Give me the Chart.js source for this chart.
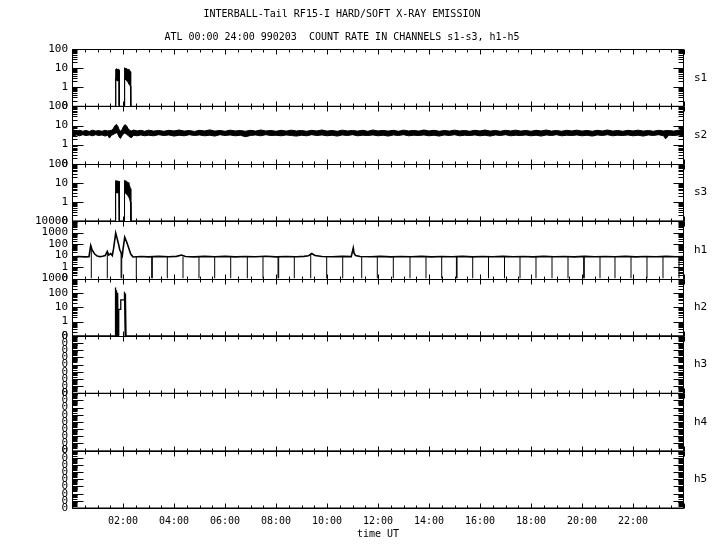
<!DOCTYPE html>
<html>
<head>
<meta charset="utf-8">
<script src="https://cdn.jsdelivr.net/npm/chart.js@4.4.1/dist/chart.umd.min.js"></script>
<style>
  html, body { margin: 0; padding: 0; background: #fff; }
</style>
</head>
<body>
<canvas id="xray" width="720" height="550"></canvas>
<script>
// Titles and axis text
const titleLines = [
    'INTERBALL-Tail RF15-I HARD/SOFT X-RAY EMISSION',
    'ATL 00:00 24:00 990203  COUNT RATE IN CHANNELS s1-s3, h1-h5'
];
const xTitle = 'time UT';
const xTickHours = [2, 4, 6, 8, 10, 12, 14, 16, 18, 20, 22];
const xTickLabels = ['02:00', '04:00', '06:00', '08:00', '10:00', '12:00',
    '14:00', '16:00', '18:00', '20:00', '22:00'];

// Panels, top to bottom
const panelNames = ['s1', 's2', 's3', 'h1', 'h2', 'h3', 'h4', 'h5'];
const s1Ticks = [0.1, 1, 10, 100];
const s2Ticks = [0.1, 1, 10, 100];
const s3Ticks = [0.1, 1, 10, 100];
const h1Ticks = [0.1, 1, 10, 100, 1000, 10000];
const h2Ticks = [0.1, 1, 10, 100, 1000];
const zeroTicks = [0, 0.125, 0.25, 0.375, 0.5, 0.625, 0.75, 0.875, 1];

// s1, s3: [hour, low, high] of the count rate band
const s1Band = [
    [0, 0, 0], [1.71, 0, 0], [1.715, 3.0, 8.5], [1.73, 2.3, 9.2], [1.75, 3.2, 8.8],
    [1.77, 2.4, 9.0], [1.79, 2.1, 8.2], [1.81, 2.8, 8.6], [1.83, 2.3, 8.9],
    [1.85, 2.6, 7.8], [1.855, 0, 0], [2.05, 0, 0], [2.055, 2.2, 9.5],
    [2.07, 3.0, 10.5], [2.09, 2.6, 9.8], [2.11, 2.4, 9.2], [2.14, 2.2, 9.6],
    [2.17, 2.0, 8.6], [2.20, 1.8, 8.8], [2.23, 1.5, 7.6], [2.26, 1.3, 7.8],
    [2.29, 1.15, 6.5], [2.30, 1.1, 6.0], [2.305, 0, 0], [24, 0, 0]
];
const s3Band = [
    [0, 0, 0], [1.695, 0, 0], [1.70, 3.2, 12], [1.72, 2.8, 13], [1.74, 3.4, 12.5],
    [1.76, 3.0, 13], [1.78, 3.5, 12], [1.80, 2.9, 12.8], [1.82, 3.2, 11.5],
    [1.845, 3.0, 12], [1.855, 2.8, 10], [1.86, 0, 0], [2.045, 0, 0],
    [2.05, 2.6, 12], [2.07, 3.2, 13.5], [2.09, 2.9, 12.5], [2.11, 3.0, 13],
    [2.14, 2.5, 12], [2.17, 2.6, 11], [2.20, 2.0, 10.5], [2.23, 1.8, 9],
    [2.26, 1.4, 7], [2.29, 1.0, 5], [2.305, 0.9, 4], [2.31, 0, 0], [24, 0, 0]
];
const s2Band = [
    [0.00, 2.5, 7.5], [0.06, 2.8, 5.8], [0.18, 3.2, 5.1], [0.3, 2.9, 5.6],
    [0.42, 3.3, 5.0], [0.55, 3.0, 5.5], [0.68, 3.2, 4.9], [0.8, 2.9, 5.7],
    [0.93, 3.3, 5.1], [1.05, 3.0, 5.4], [1.18, 3.2, 5.0], [1.3, 2.8, 5.6],
    [1.4, 3.1, 5.2], [1.47, 2.2, 5.4], [1.55, 3.1, 5.6], [1.62, 3.4, 7.0],
    [1.68, 3.8, 9.5], [1.74, 4.2, 11.5], [1.80, 3.5, 9.0], [1.85, 2.5, 6.0],
    [1.90, 2.1, 5.2], [1.96, 2.9, 5.8], [2.01, 3.6, 8.5], [2.07, 4.0, 11],
    [2.13, 3.6, 10], [2.20, 3.0, 7.0], [2.27, 2.5, 5.5], [2.33, 2.3, 5.2],
    [2.42, 3.1, 5.8], [2.55, 2.9, 5.2], [2.7, 3.2, 5.6], [2.85, 2.9, 5.0],
    [3.0, 3.1, 5.7], [3.2, 2.9, 5.1], [3.4, 3.3, 5.5], [3.6, 3.0, 5.0],
    [3.8, 3.2, 5.6], [4.0, 2.8, 5.2], [4.2, 3.1, 5.8], [4.4, 2.9, 5.1],
    [4.6, 3.3, 5.5], [4.8, 3.0, 4.9], [5.0, 3.2, 5.6], [5.2, 2.9, 5.2],
    [5.4, 3.1, 5.9], [5.6, 2.8, 5.1], [5.8, 3.3, 5.5], [6.0, 3.0, 5.0],
    [6.2, 3.2, 5.7], [6.4, 2.9, 5.2], [6.6, 3.1, 5.5], [6.8, 2.6, 5.0],
    [7.0, 3.0, 5.6], [7.2, 3.2, 5.1], [7.4, 2.9, 5.8], [7.6, 3.3, 5.2],
    [7.8, 3.0, 5.5], [8.0, 3.1, 5.0], [8.2, 2.9, 5.6], [8.4, 3.2, 5.1],
    [8.6, 3.0, 5.7], [8.8, 2.8, 5.2], [9.0, 3.1, 5.5], [9.2, 2.9, 5.0],
    [9.4, 3.3, 5.6], [9.6, 3.0, 5.2], [9.8, 3.2, 5.8], [10.0, 2.9, 5.1],
    [10.2, 3.1, 5.5], [10.4, 2.8, 5.0], [10.6, 3.2, 5.7], [10.8, 3.0, 5.2],
    [11.0, 3.3, 5.5], [11.2, 2.9, 5.1], [11.4, 3.1, 5.6], [11.6, 3.0, 5.0],
    [11.8, 3.2, 5.8], [12.0, 2.9, 5.2], [12.2, 3.1, 5.5], [12.4, 2.8, 5.1],
    [12.6, 3.2, 5.6], [12.8, 3.0, 5.0], [13.0, 3.3, 5.7], [13.2, 2.9, 5.2],
    [13.4, 3.1, 5.5], [13.6, 3.0, 5.1], [13.8, 3.2, 5.8], [14.0, 2.9, 5.2],
    [14.2, 3.1, 5.6], [14.4, 2.8, 5.0], [14.6, 3.2, 5.5], [14.8, 3.0, 5.1],
    [15.0, 3.3, 5.7], [15.2, 2.9, 5.2], [15.4, 3.1, 5.5], [15.6, 3.0, 5.0],
    [15.8, 3.2, 5.6], [16.0, 2.9, 5.2], [16.2, 3.1, 5.8], [16.4, 2.8, 5.1],
    [16.6, 3.2, 5.5], [16.8, 3.0, 5.0], [17.0, 3.3, 5.6], [17.2, 2.9, 5.2],
    [17.4, 3.1, 5.7], [17.6, 3.0, 5.1], [17.8, 3.2, 5.5], [18.0, 2.9, 5.0],
    [18.2, 3.1, 5.6], [18.4, 2.8, 5.2], [18.6, 3.2, 5.8], [18.8, 3.0, 5.1],
    [19.0, 3.3, 5.5], [19.2, 2.9, 5.0], [19.4, 3.1, 5.6], [19.6, 3.0, 5.2],
    [19.8, 3.2, 5.7], [20.0, 2.9, 5.1], [20.2, 3.1, 5.5], [20.4, 2.8, 5.0],
    [20.6, 3.2, 5.6], [20.8, 3.0, 5.2], [21.0, 3.3, 5.8], [21.2, 2.9, 5.1],
    [21.4, 3.1, 5.5], [21.6, 3.0, 5.0], [21.8, 3.2, 5.6], [22.0, 2.9, 5.2],
    [22.2, 3.1, 5.7], [22.4, 2.8, 5.1], [22.6, 3.2, 5.5], [22.8, 3.0, 5.0],
    [23.0, 3.3, 5.6], [23.2, 2.9, 5.2], [23.28, 2.0, 5.4], [23.4, 3.1, 5.5],
    [23.6, 3.0, 5.1], [23.8, 3.2, 5.7], [24.0, 2.7, 7.0]
];

// h1: [hour, count] and the short dropouts [hour, level before the drop]
const h1Line = [
    [0.00, 7.5], [0.25, 8.2], [0.50, 7.6], [0.667, 8.0], [0.733, 75], [0.784, 32],
    [0.89, 13.5], [0.99, 9], [1.10, 8.0], [1.20, 8.6], [1.30, 10], [1.384, 23],
    [1.44, 11], [1.52, 15], [1.58, 10], [1.63, 40], [1.714, 900], [1.765, 340],
    [1.831, 88], [1.871, 32], [1.93, 18], [1.973, 10], [2.01, 50], [2.067, 390],
    [2.145, 150], [2.224, 45], [2.302, 13.6], [2.392, 7.5], [2.7, 8.3], [3.0, 7.6],
    [3.4, 8.4], [3.8, 7.8], [4.1, 8.5], [4.29, 11], [4.45, 8.2], [4.8, 7.6],
    [5.2, 8.4], [5.6, 7.9], [6.0, 8.5], [6.4, 7.7], [6.8, 8.3], [7.2, 7.8],
    [7.6, 8.6], [8.0, 7.6], [8.4, 8.2], [8.8, 7.8], [9.1, 8.5], [9.27, 9.5],
    [9.4, 15], [9.53, 10], [9.8, 8.2], [10.2, 7.8], [10.6, 8.4], [10.95, 8.0],
    [11.03, 45], [11.06, 16], [11.12, 10], [11.3, 8.2], [11.7, 7.8], [12.1, 8.4],
    [12.5, 7.7], [12.9, 8.3], [13.3, 7.9], [13.7, 8.5], [14.1, 7.6], [14.5, 8.2],
    [14.9, 7.8], [15.3, 8.4], [15.7, 7.7], [16.1, 8.3], [16.5, 7.9], [16.9, 8.5],
    [17.3, 7.8], [17.7, 8.2], [18.1, 7.6], [18.5, 8.4], [18.9, 7.9], [19.3, 8.3],
    [19.7, 7.7], [20.1, 8.5], [20.5, 7.8], [20.9, 8.2], [21.3, 7.9], [21.7, 8.4],
    [22.1, 7.6], [22.5, 8.3], [22.9, 7.8], [23.3, 8.4], [23.7, 7.9], [24.0, 8.2]
];
const h1Drops = [
    [0.757, 70], [1.384, 22], [1.925, 18], [1.95, 14], [2.522, 8], [3.125, 8],
    [3.15, 8], [3.737, 8], [4.353, 8], [4.980, 8], [5.596, 8], [6.224, 8],
    [6.875, 8], [7.490, 8], [8.08, 8], [8.105, 8], [8.718, 8], [9.361, 14],
    [9.988, 8], [10.616, 8], [11.361, 8], [11.973, 8], [12.600, 8], [13.255, 8],
    [13.882, 8], [14.498, 8], [15.075, 8], [15.10, 8], [15.714, 8], [16.333, 8],
    [16.961, 8], [17.569, 8], [18.196, 8], [18.824, 8], [19.451, 8], [20.065, 8],
    [20.09, 8], [20.706, 8], [21.294, 8], [21.922, 8], [22.549, 8], [23.176, 8],
    [23.804, 8]
];
const h2Line = [
    [0, 0], [1.69, 0], [1.692, 240], [1.71, 60], [1.72, 180], [1.73, 40],
    [1.74, 150], [1.75, 0], [1.77, 80], [1.78, 0], [1.80, 100], [1.81, 0],
    [1.83, 0], [1.835, 7], [1.91, 7], [1.912, 32], [2.04, 32], [2.042, 120],
    [2.06, 35], [2.07, 100], [2.085, 0], [2.095, 90], [2.10, 50], [2.12, 0], [24, 0]
];
const h3Line = [[0, 0], [24, 0]];
const h4Line = [[0, 0], [24, 0]];
const h5Line = [[0, 0], [24, 0]];

const MONO = "'DejaVu Sans Mono', 'Liberation Mono', monospace";
const panelTicks = [s1Ticks, s2Ticks, s3Ticks, h1Ticks, h2Ticks, zeroTicks, zeroTicks, zeroTicks];
const panelIsLog = [true, true, true, true, true, false, false, false];

function yAxis(i) {
    const ticks = panelTicks[i];
    const isLog = panelIsLog[i];
    return {
        type: isLog ? 'logarithmic' : 'linear',
        position: 'left',
        stack: 'panels',
        stackWeight: 1,
        weight: panelNames.length - i,
        min: ticks[0],
        max: ticks[ticks.length - 1],
        afterBuildTicks: s => { s.ticks = ticks.map(v => ({ value: v })); },
        afterFit: s => { s.width = 72; },
        grid: { display: false, drawTicks: false },
        border: { display: false },
        ticks: {
            autoSkip: false,
            padding: 4,
            color: '#000',
            font: { family: MONO, size: 11 },
            callback: v => (isLog && v >= 1 ? String(v) : '0')
        }
    };
}

function lineSet(points, axis, floor, width) {
    return {
        data: points.map(([h, v]) => ({ x: h, y: Math.max(v, floor) })),
        yAxisID: axis, borderColor: '#000', borderWidth: width || 1,
        pointRadius: 0, fill: false, tension: 0
    };
}

function bandSets(band, axis) {
    const lo = band.map(([h, l]) => [h, l]);
    const hi = band.map(([h, , u]) => [h, u]);
    const hiSet = lineSet(hi, axis, 0.1);
    hiSet.fill = '-1';
    hiSet.backgroundColor = '#000';
    return [lineSet(lo, axis, 0.1), hiSet];
}

const dropSet = {
    data: h1Drops.flatMap(([h, top]) => [{ x: h, y: 0.1 }, { x: h, y: top }, { x: h, y: null }]),
    yAxisID: 'h1', borderColor: '#000', borderWidth: 1, pointRadius: 0, fill: false
};

const datasets = [
    ...bandSets(s1Band, 's1'),
    ...bandSets(s2Band, 's2'),
    ...bandSets(s3Band, 's3'),
    lineSet(h1Line, 'h1', 0.1, 1.6),
    dropSet,
    lineSet(h2Line, 'h2', 0.1, 1.3),
    lineSet(h3Line, 'h3', 0),
    lineSet(h4Line, 'h4', 0),
    lineSet(h5Line, 'h5', 0)
];

const scales = {
    x: {
        type: 'linear',
        min: 0,
        max: 24,
        afterBuildTicks: s => { s.ticks = xTickHours.map(v => ({ value: v })); },
        afterFit: s => { s.height = 42; },
        grid: { display: false, drawTicks: false },
        border: { display: false },
        ticks: {
            autoSkip: false, maxRotation: 0, padding: 7, color: '#000',
            font: { family: MONO, size: 10 },
            callback: (v, i) => xTickLabels[i]
        },
        title: {
            display: true, text: xTitle, color: '#000',
            font: { family: MONO, size: 10 },
            padding: { top: 0, bottom: 10 }
        }
    }
};
panelNames.forEach((id, i) => { scales[id] = yAxis(i); });

// frames, inward tick marks and channel names
const panelFrame = {
    id: 'panelFrame',
    afterDraw(chart) {
        const { ctx, chartArea: a, scales: sc } = chart;
        const xs = sc.x;
        const L = Math.round(a.left) + 0.5;
        const R = Math.round(a.right) - 0.5;
        ctx.save();
        ctx.strokeStyle = '#000';
        ctx.lineWidth = 1;
        ctx.beginPath();
        panelNames.forEach((id, i) => {
            const s = sc[id];
            const T = Math.round(s.top) + 0.5;
            const B = Math.round(s.bottom) + 0.5;
            ctx.moveTo(L, T); ctx.lineTo(R, T);
            ctx.moveTo(L, B); ctx.lineTo(R, B);
            ctx.moveTo(L, T); ctx.lineTo(L, B);
            ctx.moveTo(R, T); ctx.lineTo(R, B);
            for (let t = 0; t <= 24; t += 0.5) {
                const px = Math.round(xs.getPixelForValue(t)) + 0.5;
                const len = t % 2 === 0 ? 5 : 3;
                ctx.moveTo(px, T); ctx.lineTo(px, T + len);
                ctx.moveTo(px, B); ctx.lineTo(px, B - len);
            }
            const ticks = panelTicks[i];
            ticks.forEach((v, j) => {
                const py = Math.round(s.getPixelForValue(v)) + 0.5;
                ctx.moveTo(L, py); ctx.lineTo(L + 11, py);
                ctx.moveTo(R, py); ctx.lineTo(R - 10, py);
                if (j === ticks.length - 1) return;
                for (let k = 2; k <= 9; k++) {
                    const mv = panelIsLog[i] ? v * k : v + (ticks[j + 1] - v) * Math.log10(k);
                    const my = Math.round(s.getPixelForValue(mv)) + 0.5;
                    ctx.moveTo(L, my); ctx.lineTo(L + 5, my);
                    ctx.moveTo(R, my); ctx.lineTo(R - 5, my);
                }
            });
        });
        ctx.stroke();
        ctx.fillStyle = '#000';
        ctx.font = '11px ' + MONO;
        ctx.textAlign = 'left';
        ctx.textBaseline = 'middle';
        panelNames.forEach(id => {
            const s = sc[id];
            ctx.fillText(id, 694, (s.top + s.bottom) / 2);
        });
        ctx.restore();
    }
};

new Chart(document.getElementById('xray'), {
    type: 'line',
    data: { datasets },
    options: {
        responsive: false,
        devicePixelRatio: 1,
        animation: false,
        layout: { padding: { left: 0, right: 36, top: 0, bottom: 0 } },
        scales,
        plugins: {
            legend: { display: false },
            tooltip: { enabled: false },
            title: {
                display: true,
                text: titleLines,
                color: '#000',
                font: { family: MONO, size: 10, weight: 'normal', lineHeight: 2.3 },
                padding: { top: 3, bottom: 0 }
            }
        }
    },
    plugins: [panelFrame]
});
</script>
</body>
</html>
